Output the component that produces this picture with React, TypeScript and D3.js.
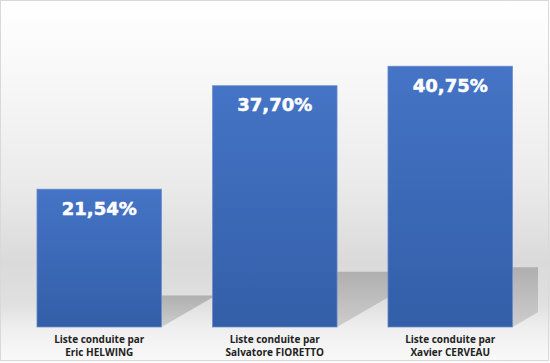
import React, { useRef, useEffect } from "react";
import * as d3 from "d3";

const candidates = ["Eric HELWING", "Salvatore FIORETTO", "Xavier CERVEAU"];
const scores = [21.54, 37.7, 40.75];
const labelPrefix = "Liste conduite par";

export default function App() {
  const svgRef = useRef<SVGSVGElement>(null);

  useEffect(() => {
    if (!svgRef.current) return;
    const width = 550;
    const height = 363;
    const plot = { left: 11.5, right: 538, top: 7, bottom: 327 };

    const svg = d3.select(svgRef.current);
    svg.selectAll("*").remove();
    svg.attr("width", width).attr("height", height);

    const data = candidates.map((name, i) => ({ name, value: scores[i] }));

    const x = d3
      .scaleBand()
      .domain(candidates)
      .range([plot.left, plot.right])
      .paddingInner(0.29)
      .paddingOuter(0.145);

    const y = d3.scaleLinear().domain([0, 50]).range([plot.bottom, plot.top]);

    const defs = svg.append("defs");

    // background: white at the top, grey toward the floor, lighter again below
    const bg = defs
      .append("linearGradient")
      .attr("id", "bg")
      .attr("x1", 0)
      .attr("y1", 0)
      .attr("x2", 0)
      .attr("y2", 1);
    [
      [0, "#ffffff"],
      [0.2, "#f8f8f8"],
      [0.5, "#ebebeb"],
      [0.72, "#dadada"],
      [0.84, "#e0e0e0"],
      [0.9, "#eeeeee"],
      [1, "#fafafa"],
    ].forEach(([o, c]) =>
      bg.append("stop").attr("offset", o as number).attr("stop-color", c as string)
    );

    const barGrad = defs
      .append("linearGradient")
      .attr("id", "bar")
      .attr("x1", 0)
      .attr("y1", 0)
      .attr("x2", 0)
      .attr("y2", 1);
    barGrad.append("stop").attr("offset", 0).attr("stop-color", "#4574c6");
    barGrad.append("stop").attr("offset", 1).attr("stop-color", "#335ea8");

    const shadowGrad = defs
      .append("linearGradient")
      .attr("id", "shadow")
      .attr("x1", 0)
      .attr("y1", 0)
      .attr("x2", 0)
      .attr("y2", 1);
    shadowGrad.append("stop").attr("offset", 0).attr("stop-color", "#afafaf");
    shadowGrad.append("stop").attr("offset", 1).attr("stop-color", "#cdcdcd");

    defs
      .append("filter")
      .attr("id", "blur")
      .append("feGaussianBlur")
      .attr("stdDeviation", 0.7);

    defs
      .append("clipPath")
      .attr("id", "plotClip")
      .append("rect")
      .attr("x", 0)
      .attr("y", 0)
      .attr("width", plot.right)
      .attr("height", plot.bottom);

    svg
      .append("rect")
      .attr("x", 0)
      .attr("y", 0)
      .attr("width", width)
      .attr("height", height)
      .attr("fill", "url(#bg)");

    // cast shadows behind bars
    const shadowRatio = 0.229;
    const slope = 0.58;
    svg
      .append("g")
      .attr("clip-path", "url(#plotClip)")
      .selectAll("polygon")
      .data(data)
      .join("polygon")
      .attr("points", (d) => {
        const xl = x(d.name) || 0;
        const xr = xl + x.bandwidth();
        const h = y(0) - y(d.value);
        const top = y(0) - shadowRatio * h;
        const dx = (shadowRatio * h) / slope;
        return [
          [xl, y(0)],
          [xr, y(0)],
          [xr + dx, top],
          [xl + dx, top],
        ]
          .map((p) => p.join(","))
          .join(" ");
      })
      .attr("fill", "url(#shadow)")
      .attr("filter", "url(#blur)");

    svg
      .append("g")
      .selectAll("rect")
      .data(data)
      .join("rect")
      .attr("x", (d) => x(d.name) || 0)
      .attr("y", (d) => y(d.value))
      .attr("width", x.bandwidth())
      .attr("height", (d) => y(0) - y(d.value))
      .attr("fill", "url(#bar)")
      .attr("stroke", "#6d8fd0")
      .attr("stroke-width", 0.75);

    svg
      .append("g")
      .selectAll("text")
      .data(data)
      .join("text")
      .attr("x", (d) => (x(d.name) || 0) + x.bandwidth() / 2)
      .attr("y", (d) => y(d.value) + 25.5)
      .attr("text-anchor", "middle")
      .attr("font-family", "DejaVu Sans, sans-serif")
      .attr("font-weight", 700)
      .attr("font-size", "18px")
      .attr("fill", "#ffffff")
      .attr("stroke", "#ffffff")
      .attr("stroke-width", 0.5)
      .text((d) => d.value.toFixed(2).replace(".", ",") + "%");

    const cat = svg
      .append("g")
      .selectAll("text")
      .data(data)
      .join("text")
      .attr("text-anchor", "middle")
      .attr("font-family", "Open Sans, sans-serif")
      .attr("font-weight", 700)
      .attr("font-size", "10px")
      .attr("fill", "#222222");
    cat.each(function (d) {
      const cx = (x(d.name) || 0) + x.bandwidth() / 2;
      const t = d3.select(this);
      [labelPrefix, d.name].forEach((line, i) => {
        t.append("tspan")
          .attr("x", cx)
          .attr("y", 343 + i * 12.5)
          .text(line);
      });
    });

    svg
      .append("rect")
      .attr("x", 0.5)
      .attr("y", 0.5)
      .attr("width", 548)
      .attr("height", 360)
      .attr("fill", "none")
      .attr("stroke", "#d9d9d9");
  }, []);

  return (
    <svg
      ref={svgRef}
      style={{ position: "absolute", left: 0, top: 0, display: "block" }}
    ></svg>
  );
}
